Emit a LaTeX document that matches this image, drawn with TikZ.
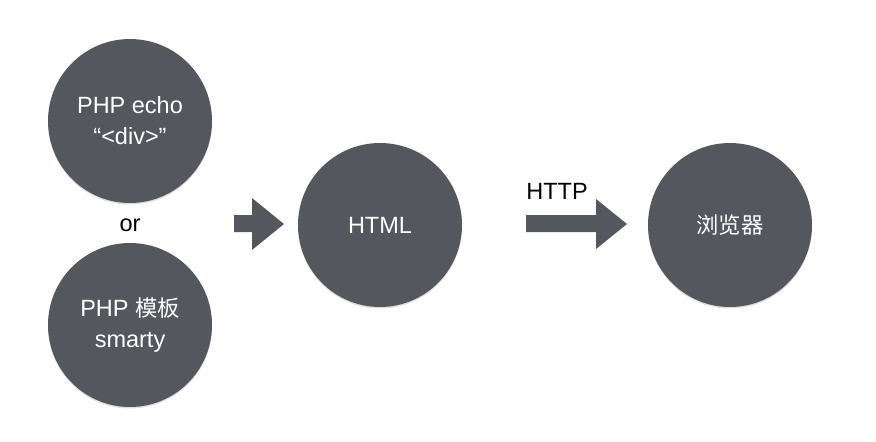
\documentclass[tikz,border=0pt]{standalone}
\usepackage{fontspec}
\setmainfont{Liberation Sans}
\newfontfamily\cjk{Noto Sans CJK SC}[Scale=0.95]
\usetikzlibrary{shadows}
\definecolor{disc}{RGB}{84,87,94}
\begin{document}
\begin{tikzpicture}[x=1pt,y=-1pt,
  bubble/.style={circle, fill=disc, minimum size=164pt, inner sep=0pt,
    text=white, align=center, font=\fontsize{23.5}{33}\selectfont,
    drop shadow={opacity=0.25, shadow xshift=0pt, shadow yshift=-1.5pt}},
  lbl/.style={text=black, font=\fontsize{23.5}{28}\selectfont, inner sep=0pt},
  blockarrow/.style={fill=disc}]
\useasboundingbox (0,0) rectangle (876,442);
\node[bubble] (echo) at (130,121) {PHP echo\\[-2pt]“<div>”};
\node[bubble] (tpl) at (130,325) {PHP {\cjk 模板}\\[-2pt]smarty};
\node[lbl] (or) at (130,225) {or};
\node[bubble] (html) at (380,225) {HTML};
\node[bubble] (browser) at (730,225) {\cjk 浏览器};
\node[lbl] (http) at (557,191) {HTTP};
% block arrows
\fill[blockarrow] (234,215) -- (252,215) -- (252,198) -- (284,224) -- (252,250) -- (252,232) -- (234,232) -- cycle;
\fill[blockarrow] (526,215) -- (596,215) -- (596,199) -- (627,224) -- (596,249) -- (596,232) -- (526,232) -- cycle;
\end{tikzpicture}
\end{document}
